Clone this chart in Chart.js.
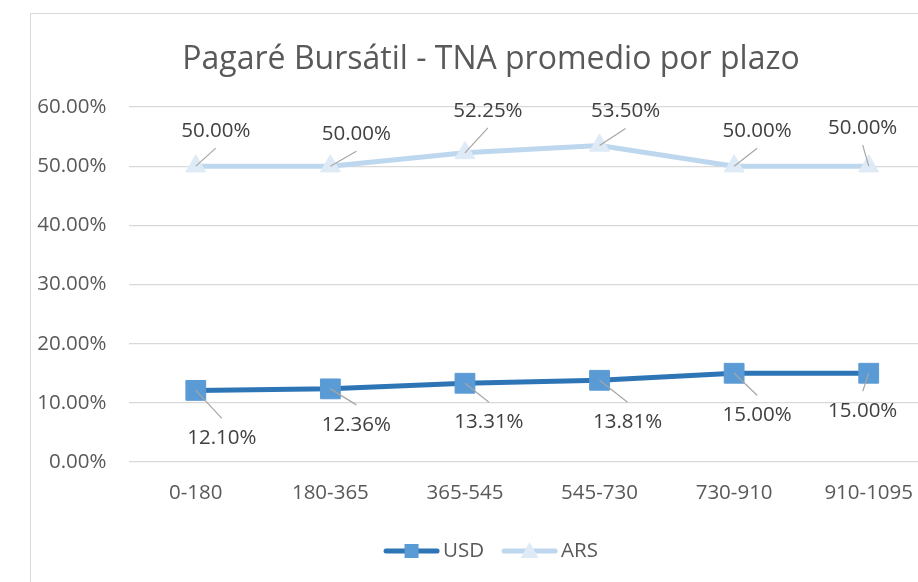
<!DOCTYPE html>
<html>
<head>
<meta charset="utf-8">
<script src="https://cdn.jsdelivr.net/npm/chart.js@4.4.1/dist/chart.umd.min.js"></script>
<style>
  html, body { margin: 0; padding: 0; background: #ffffff; overflow: hidden; width: 918px; height: 582px; }
  #frame { position: absolute; left: 30px; top: 13px; width: 920px; height: 600px; border-left: 1px solid #d9d9d9; border-top: 1px solid #d9d9d9; }
  #c { position: absolute; left: 0; top: 0; }
</style>
</head>
<body>
<div id="frame"><canvas id="c" width="920" height="600"></canvas></div>
<script>
const titleText = 'Pagaré Bursátil - TNA promedio por plazo';
const categories = ['0-180', '180-365', '365-545', '545-730', '730-910', '910-1095'];
const usdValues = [12.10, 12.36, 13.31, 13.81, 15.00, 15.00];
const arsValues = [50.00, 50.00, 52.25, 53.50, 50.00, 50.00];
const yTickMin = 0;
const yTickMax = 60;
const yTickStep = 10;

// label offsets (style: where each data label sits relative to its point)
const usdLabelOffsets = [[26, 48], [26, 36], [24, 39], [28, 42], [23, 42], [-6, 38]];
const arsLabelOffsets = [[20, -35], [26, -32], [23, -42], [26, -34], [23, -35], [-6, -38]];

const FONT = '"Open Sans", "DejaVu Sans", sans-serif';
const AXIS_COLOR = '#595959';
const LABEL_COLOR = '#404040';
const FS = 20.5;

const fmt = v => v.toFixed(2) + '%';

const titlePlugin = {
  id: 'customTitle',
  afterDraw(chart) {
    const ctx = chart.ctx;
    ctx.save();
    ctx.fillStyle = AXIS_COLOR;
    ctx.font = '32px ' + FONT;
    ctx.textAlign = 'center';
    ctx.textBaseline = 'middle';
    ctx.fillText(titleText, chart.width / 2, 46);
    ctx.restore();
  }
};

const labelPlugin = {
  id: 'leaderLabels',
  afterDatasetsDraw(chart) {
    const ctx = chart.ctx;
    ctx.save();
    ctx.font = FS + 'px ' + FONT;
    ctx.textAlign = 'center';
    ctx.textBaseline = 'middle';
    chart.data.datasets.forEach((ds, di) => {
      const meta = chart.getDatasetMeta(di);
      const offs = ds.labelOffsets;
      meta.data.forEach((pt, i) => {
        const [dx, dy] = offs[i];
        const lx = pt.x + dx, ly = pt.y + dy;
        const ey = dy > 0 ? ly - 20 : ly + 17;
        ctx.strokeStyle = '#a6a6a6';
        ctx.lineWidth = 1.2;
        ctx.beginPath();
        ctx.moveTo(pt.x, pt.y);
        ctx.lineTo(lx, ey);
        ctx.stroke();
        ctx.fillStyle = LABEL_COLOR;
        ctx.fillText(fmt(ds.data[i]), lx, ly);
      });
    });
    ctx.restore();
  }
};

const legendPlugin = {
  id: 'customLegend',
  afterDraw(chart) {
    const ctx = chart.ctx;
    ctx.save();
    ctx.font = FS + 'px ' + FONT;
    ctx.textBaseline = 'middle';
    ctx.textAlign = 'left';
    const y = 537;
    const items = chart.data.datasets.map(ds => ({ ds, tw: ctx.measureText(ds.label).width }));
    const seg = 55, gapTxt = 4, gapItem = 18;
    let total = 0;
    items.forEach((it, i) => { total += seg + gapTxt + it.tw + (i < items.length - 1 ? gapItem : 0); });
    let x = chart.width / 2 - total / 2;
    items.forEach(it => {
      const ds = it.ds;
      ctx.strokeStyle = ds.borderColor;
      ctx.lineWidth = ds.borderWidth;
      ctx.lineCap = 'round';
      ctx.beginPath();
      ctx.moveTo(x + 2, y);
      ctx.lineTo(x + seg - 2, y);
      ctx.stroke();
      ctx.fillStyle = ds.pointBackgroundColor;
      ctx.strokeStyle = ds.pointBorderColor;
      ctx.lineWidth = 1;
      ctx.beginPath();
      if (ds.pointStyle === 'rect') {
        ctx.rect(x + seg / 2 - 7, y - 7, 14, 14);
      } else {
        ctx.moveTo(x + seg / 2, y - 9);
        ctx.lineTo(x + seg / 2 + 9, y + 7);
        ctx.lineTo(x + seg / 2 - 9, y + 7);
        ctx.closePath();
      }
      ctx.fill();
      ctx.fillStyle = AXIS_COLOR;
      ctx.fillText(ds.label, x + seg + gapTxt, y);
      x += seg + gapTxt + it.tw + gapItem;
    });
    ctx.restore();
  }
};

new Chart(document.getElementById('c'), {
  type: 'line',
  data: {
    labels: categories,
    datasets: [
      {
        label: 'USD',
        data: usdValues,
        borderColor: '#2e75b6',
        borderWidth: 5,
        pointStyle: 'rect',
        pointRadius: 14,
        pointHoverRadius: 14,
        pointBackgroundColor: '#5b9bd5',
        pointBorderColor: '#5b9bd5',
        pointBorderWidth: 1,
        tension: 0,
        labelOffsets: usdLabelOffsets
      },
      {
        label: 'ARS',
        data: arsValues,
        borderColor: '#bdd7ee',
        borderWidth: 5,
        pointStyle: 'triangle',
        pointRadius: 11.5,
        pointHoverRadius: 11.5,
        pointBackgroundColor: '#deebf7',
        pointBorderColor: '#deebf7',
        pointBorderWidth: 1,
        tension: 0,
        labelOffsets: arsLabelOffsets
      }
    ]
  },
  options: {
    responsive: false,
    animation: false,
    events: [],
    layout: { padding: { top: 93, left: 0, right: 12, bottom: 0 } },
    plugins: {
      legend: { display: false },
      title: { display: false },
      tooltip: { enabled: false }
    },
    scales: {
      x: {
        offset: true,
        grid: { display: false, drawTicks: false, offset: true },
        border: { display: false },
        ticks: { color: AXIS_COLOR, font: { size: FS, family: FONT }, padding: 19, maxRotation: 0, autoSkip: false },
        afterFit(scale) { scale.height = 152; }
      },
      y: {
        min: yTickMin,
        max: yTickMax,
        grid: { color: '#d9d9d9', lineWidth: 1.3, drawTicks: false },
        border: { display: false },
        ticks: {
          stepSize: yTickStep,
          color: AXIS_COLOR,
          font: { size: FS, family: FONT },
          padding: 22,
          callback: v => fmt(v)
        },
        afterFit(scale) { scale.width = 97.5; }
      }
    }
  },
  plugins: [titlePlugin, labelPlugin, legendPlugin]
});
</script>
</body>
</html>
